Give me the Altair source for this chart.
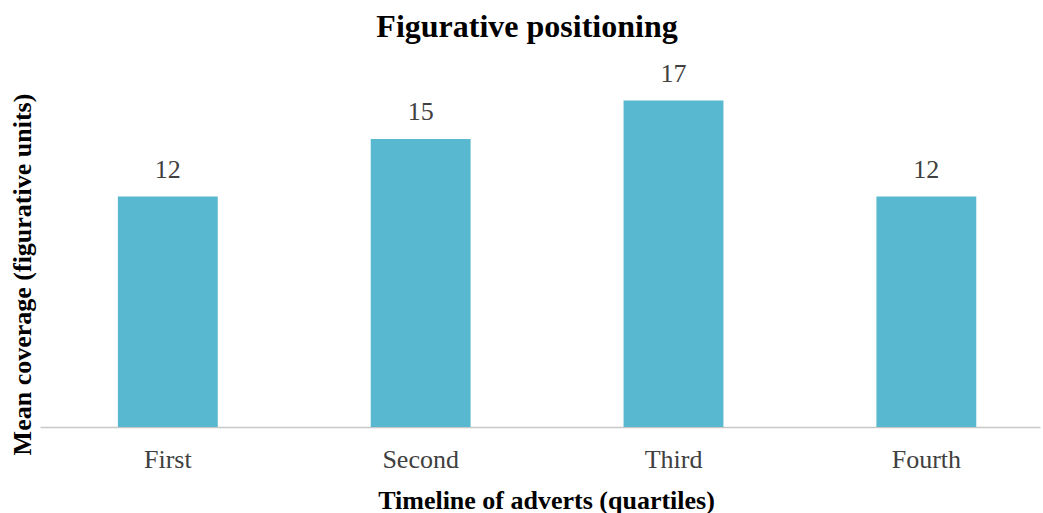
import altair as alt
import pandas as pd

# Mean figurative coverage per quartile of the advert timeline
quartiles = ["First", "Second", "Third", "Fourth"]
coverage = [12, 15, 17, 12]

df = pd.DataFrame({"quartile": quartiles, "coverage": coverage})

FONT = "Liberation Serif"
BAR_COLOR = "#58B8CF"

x_enc = alt.X(
    "quartile:N",
    sort=quartiles,
    scale=alt.Scale(paddingInner=0.605, paddingOuter=0.28, align=0.55),
    axis=alt.Axis(
        title="Timeline of adverts (quartiles)",
        labelAngle=0,
        ticks=False,
        labelPadding=19,
        labelFontSize=26,
        labelColor="#404040",
        labelFont=FONT,
        domainColor="#C8C8C8",
        domainWidth=1.5,
        titleFont=FONT,
        titleFontSize=26,
        titleFontWeight="bold",
        titleColor="#000000",
        titleBaseline="alphabetic",
        titleAnchor="middle",
        titleX=506,
        titleY=81,
    ),
)

y_enc = alt.Y(
    "coverage:Q",
    scale=alt.Scale(domain=[0, 20], nice=False),
    axis=alt.Axis(
        title="Mean coverage (figurative units)",
        domain=False,
        ticks=False,
        labels=False,
        grid=False,
        titleFont=FONT,
        titleFontSize=26,
        titleFontWeight="bold",
        titleColor="#000000",
        titleBaseline="alphabetic",
        titleAlign="center",
        titleAngle=270,
        titleX=-10,
        titleY=231,
    ),
)

bars = alt.Chart(df).mark_bar(color=BAR_COLOR).encode(x=x_enc, y=y_enc)

labels = alt.Chart(df).mark_text(
    baseline="alphabetic",
    dy=-19,
    fontSize=26,
    font=FONT,
    color="#404040",
).encode(
    x=alt.X("quartile:N", sort=quartiles),
    y=alt.Y("coverage:Q"),
    text=alt.Text("coverage:Q"),
)

chart = (
    alt.layer(bars, labels)
    .properties(
        width=1000,
        height=384,
        background="#FFFFFF",
        title=alt.TitleParams(
            "Figurative positioning",
            font=FONT,
            fontSize=32,
            fontWeight="bold",
            color="#000000",
            anchor="middle",
            baseline="alphabetic",
            frame="group",
            offset=5,
            dx=-13,
            dy=31,
        ),
        autosize=alt.AutoSizeParams(type="none"),
        padding={"left": 40, "top": 43, "right": 3, "bottom": 86},
    )
    .configure_view(stroke="transparent", strokeWidth=0)
)

chart.save("out.html", embed_options={"renderer": "svg", "actions": False})
